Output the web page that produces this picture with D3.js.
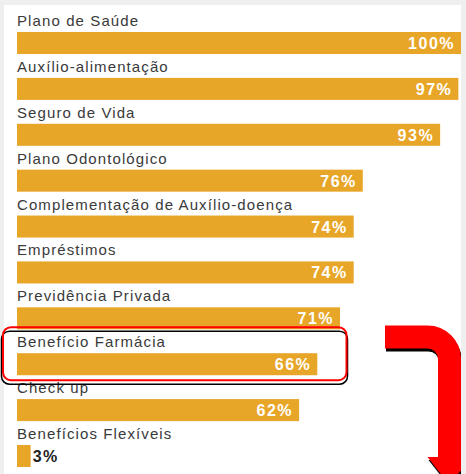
<!DOCTYPE html>
<html>
<head>
<meta charset="utf-8">
<script src="https://cdn.jsdelivr.net/npm/d3@7"></script>
<style>
  html, body { margin: 0; padding: 0; background: #fff; }
  svg { display: block; }
</style>
</head>
<body>
<div id="chart"></div>
<script>
// data
var categories = ["Plano de Saúde", "Auxílio-alimentação", "Seguro de Vida", "Plano Odontológico",
  "Complementação de Auxílio-doença", "Empréstimos", "Previdência Privada", "Benefício Farmácia",
  "Check up", "Benefícios Flexíveis"]
var values = [100, 97, 93, 76, 74, 74, 71, 66, 62, 3]
var highlighted = "Benefício Farmácia"

var width = 466, height = 474

var svg = d3.select("#chart").append("svg")
    .attr("width", width)
    .attr("height", height)

// light grey frame around the white page area
svg.append("rect").attr("width", width).attr("height", height).attr("fill", "#efefef")
svg.append("rect").attr("x", 4).attr("y", 5).attr("width", 457).attr("height", height - 5).attr("fill", "#fff")

svg.append("clipPath").attr("id", "page")
  .append("rect").attr("x", 4).attr("y", 5).attr("width", 457).attr("height", height - 5)

var x = d3.scaleLinear()
    .domain([0, 100])
    .range([17, 472])

var y = d3.scaleBand()
    .domain(categories)
    .range([32, 467])
    .paddingInner(0.52)
    .paddingOuter(0)

var g = svg.append("g").attr("clip-path", "url(#page)")

// bars
g.selectAll(".bar")
  .data(categories)
  .enter().append("rect")
    .attr("class", "bar")
    .attr("x", x(0))
    .attr("y", function(d) { return y(d) })
    .attr("width", function(d, i) { return x(values[i]) - x(0) })
    .attr("height", y.bandwidth())
    .attr("fill", "#e8a628")

// category labels above each bar
g.selectAll(".lbl")
  .data(categories)
  .enter().append("text")
    .attr("class", "lbl")
    .attr("x", 17)
    .attr("y", function(d) { return y(d) - 6 })
    .attr("fill", "#3a3a3a")
    .style("font-family", "'Liberation Sans', Arial, sans-serif")
    .style("font-size", "15px")
    .style("letter-spacing", "1.1px")
    .text(function(d) { return d })

// value labels: inside the bar (white) or outside when too short
g.selectAll(".val")
  .data(categories)
  .enter().append("text")
    .attr("class", "val")
    .attr("x", function(d, i) {
      var w = x(values[i]) - x(0)
      return w > 60 ? Math.min(x(values[i]), 461) - 6 : x(values[i]) + 2
    })
    .attr("y", function(d) { return y(d) + 17 })
    .attr("text-anchor", function(d, i) { return (x(values[i]) - x(0)) > 60 ? "end" : "start" })
    .attr("fill", function(d, i) { return (x(values[i]) - x(0)) > 60 ? "#fff" : "#222" })
    .style("font-family", "'Liberation Sans', Arial, sans-serif")
    .style("font-size", "16px")
    .style("font-weight", "bold")
    .style("letter-spacing", "1.5px")
    .text(function(d, i) { return values[i] + "%" })

// highlight box around one category (black shadow, then red outline)
var hy = y(highlighted)
svg.append("rect")
    .attr("x", 1.5).attr("y", hy - 22).attr("width", 346).attr("height", 53).attr("rx", 8)
    .attr("fill", "none").attr("stroke", "#000").attr("stroke-width", 1.5)
svg.append("rect")
    .attr("x", 3).attr("y", hy - 26).attr("width", 343.5).attr("height", 53).attr("rx", 8)
    .attr("fill", "none").attr("stroke", "#f00").attr("stroke-width", 2)

// bent arrow pointing down
function arrow(sel, dx, dy, color) {
  var a = sel.append("g").attr("transform", "translate(" + dx + "," + dy + ")")
  a.append("path")
    .attr("d", "M385,337 H427.5 A22,22 0 0 1 449.5,359 V458")
    .attr("fill", "none").attr("stroke", color).attr("stroke-width", 23)
  a.append("path")
    .attr("d", "M427.5,457 L471.5,457 L449.5,485 Z")
    .attr("fill", color)
}
var ar = svg.append("g").attr("clip-path", "url(#page)")
arrow(ar, 1, 3, "#000")
arrow(ar, 0, 0, "#f00")
</script>
</body>
</html>
